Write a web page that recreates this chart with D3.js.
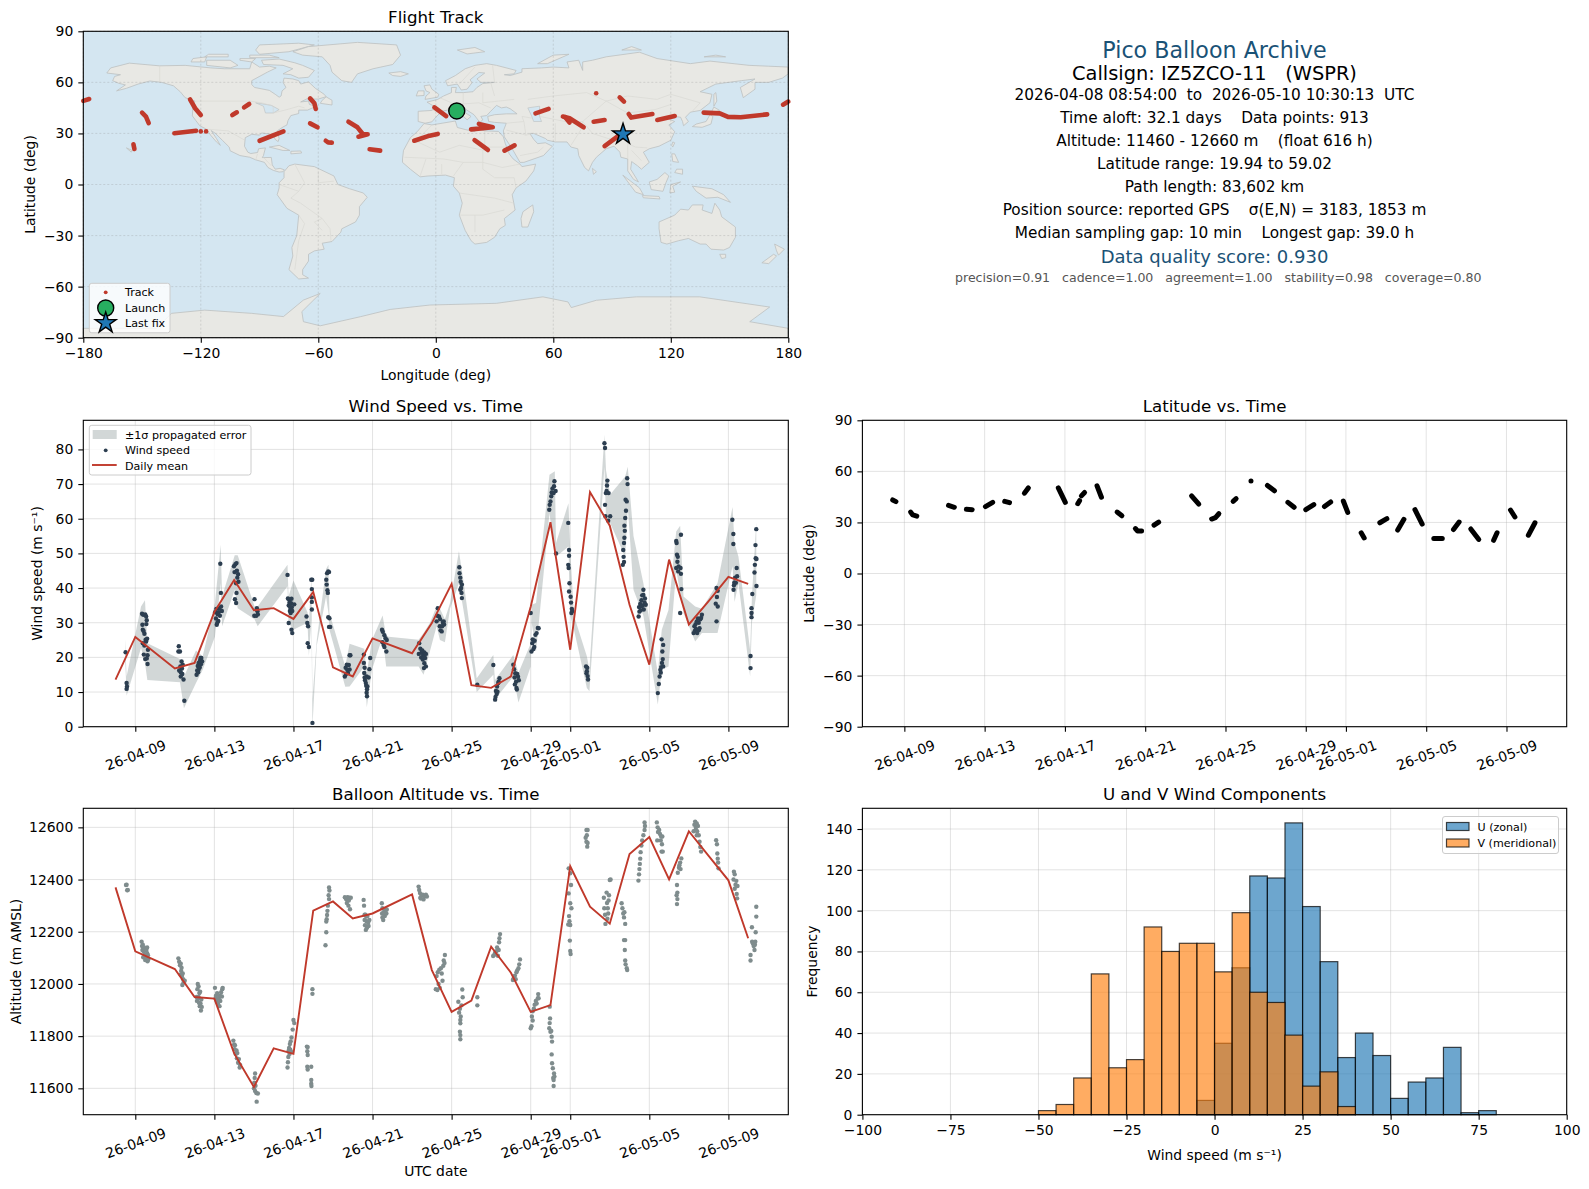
<!DOCTYPE html>
<html>
<head>
<meta charset="utf-8">
<title>Pico Balloon Archive</title>
<script src="https://cdn.jsdelivr.net/npm/d3@7"></script>
<style>
  body { margin: 0; background: #fff; }
  text { font-family: "DejaVu Sans", sans-serif; fill: #000; white-space: pre; }
</style>
</head>
<body>
<svg id="fig" width="1589" height="1189"></svg>
<script>
// day offsets are counted from 2026-04-09 00:00 UTC
var timeTicks = ['2026-04-09', '2026-04-13', '2026-04-17', '2026-04-21', '2026-04-25', '2026-04-29', '2026-05-01', '2026-05-05', '2026-05-09']

var meanDays = [-1, 0, 2, 3, 4, 5, 6, 7, 8, 9, 10, 11, 12, 14, 15, 16, 17, 18, 19, 20, 21, 22, 23, 24, 25, 26, 27, 28, 29, 30, 31]
var windMean = [13.6, 25.9, 16.8, 18.4, 33.1, 42.3, 33.6, 34.2, 31.1, 38.9, 17.1, 14.5, 25.5, 21.2, 29.9, 41.2, 12.0, 11.2, 14.5, 34.6, 59.0, 22.2, 67.7, 58.0, 35.2, 17.9, 48.2, 29.5, 36.2, 43.2, 41.2]
var altMean = [12370, 12125, 12057, 11950, 11944, 11734, 11605, 11753, 11732, 12281, 12316, 12251, 12270, 12343, 12053, 11893, 11936, 12143, 12043, 11893, 11919, 12451, 12296, 12231, 12498, 12563, 12401, 12585, 12491, 12397, 12175]

// [day, wind m/s]
var windSamples = [
  [-0.49, 21.5], [-0.44, 12.6], [-0.42, 11.6], [-0.44, 10.9],
  [0.34, 32.6], [0.4, 32.3], [0.5, 32.4], [0.55, 31.8], [0.58, 30.7], [0.56, 29.6], [0.36, 29.4], [0.38, 28], [0.42, 27.6], [0.46, 26.8], [0.52, 25.1], [0.6, 25.4], [0.55, 24.6], [0.38, 24.1], [0.46, 23.4], [0.64, 22.2], [0.43, 20.8], [0.62, 20.6], [0.5, 19.5], [0.58, 19.7], [0.62, 18.1],
  [2.2, 23.2], [2.26, 21.7], [2.18, 21.7], [2.34, 18.8], [2.4, 17.9], [2.28, 17.4], [2.36, 16.8], [2.22, 16.2], [2.3, 15.7], [2.38, 15.2], [2.3, 14.5], [2.44, 13.6], [2.48, 7.5],
  [3.1, 15], [3.13, 16.2], [3.16, 17.5], [3.2, 16.4], [3.2, 18.4], [3.26, 17.1], [3.28, 19.2], [3.32, 18], [3.34, 19.8], [3.38, 18.8], [3.18, 15.7], [3.3, 19.8],
  [4.3, 47], [4.33, 38.6], [4.08, 31.2], [4.04, 33], [4.12, 29.4], [4.17, 32.4], [4.2, 30.5], [4.25, 34.1], [4.28, 32], [4.34, 34.7], [4.38, 33.4], [4.1, 34], [4.22, 33], [4.15, 30],
  [4.99, 46.3], [5.02, 44.6], [5.06, 46.9], [5.12, 47.2], [5.14, 45], [5.2, 44], [5.16, 43], [5.1, 41.4], [5.22, 41.8], [5.12, 38.6], [5.04, 36.8], [5.1, 35.7],
  [6.03, 36.8], [6.15, 34.2], [6.18, 33.3], [6.02, 32], [6.12, 32], [6.2, 32.4],
  [7.7, 43.8], [7.72, 37], [7.78, 36.7], [7.9, 36.9], [7.76, 35], [7.82, 33.4], [7.92, 34.5], [7.86, 32.8], [8.04, 35.3], [7.88, 35.6], [7.76, 29.9], [7.9, 28], [7.94, 27], [7.8, 35.8], [7.84, 34.4], [7.94, 33.4],
  [8.66, 31.8], [8.7, 29.9], [8.74, 29], [8.72, 24.1], [8.78, 23],
  [8.9, 42.4], [8.95, 42.4], [8.93, 39.7], [8.93, 37.3], [8.93, 36], [8.93, 33.8], [8.96, 1.1],
  [9.66, 42.4], [9.7, 44.3], [9.76, 44.8], [9.8, 44.6], [9.68, 41], [9.72, 39.4], [9.74, 38.6], [9.76, 31.6], [9.82, 31.3], [9.8, 28.8], [9.86, 28.8],
  [10.6, 14.5], [10.64, 17], [10.7, 17.9], [10.76, 15.5], [10.8, 17.8], [10.84, 16.5], [10.66, 15.2], [10.72, 16.4], [10.84, 20.6], [10.88, 20.6],
  [11.56, 20.8], [11.56, 18.4], [11.6, 17], [11.58, 15.5], [11.6, 14.2], [11.7, 14.5], [11.8, 14.2], [11.84, 16.6], [11.88, 19.8], [11.66, 12.6], [11.68, 11.8], [11.72, 10.8], [11.7, 9.8], [11.72, 8.8], [11.62, 13.4], [11.74, 11.6],
  [12.48, 28], [12.52, 27.4], [12.6, 26.4], [12.66, 25.5], [12.5, 24.4], [12.56, 23.6], [12.72, 25], [12.7, 21.7], [12.6, 23],
  [14.36, 24.1], [14.42, 22.5], [14.34, 21], [14.48, 21.4], [14.56, 20.7], [14.62, 21.4], [14.7, 21], [14.46, 20], [14.54, 19.4], [14.66, 19.8], [14.62, 18.3], [14.6, 16.9], [14.7, 17.4], [14.52, 22], [14.6, 20],
  [15.24, 30.4], [15.28, 32], [15.3, 34.2], [15.36, 31.8], [15.42, 31], [15.4, 29], [15.44, 27.8], [15.52, 29], [15.56, 30], [15.6, 30.4], [15.5, 27.5], [15.62, 29.5],
  [16.39, 46], [16.4, 44.3], [16.44, 43], [16.46, 41.8], [16.52, 41], [16.44, 39.5], [16.5, 38.6], [16.52, 37.1], [16.48, 40],
  [17.3, 12.1], [18.11, 17.8], [18.42, 14], [18.36, 12.6], [18.3, 11.6], [18.24, 10.3], [18.28, 9.4], [18.22, 8.6], [18.2, 7.8], [18.32, 10.1], [18.38, 13],
  [19.12, 17.9], [19.16, 16.6], [19.22, 15.4], [19.32, 15.2], [19.4, 13.4], [19.18, 14.2], [19.26, 13], [19.2, 12.2], [19.28, 11.2], [19.3, 10.7], [19.36, 14.4],
  [20, 32.8], [20.04, 21.7], [20.08, 24.1], [20.1, 25.2], [20.14, 22.4], [20.18, 23], [20.2, 24.8], [20.24, 26.5], [20.3, 27], [20.36, 28.5], [20.4, 28.4],
  [20.94, 62.6], [20.96, 64], [21, 65], [21.04, 66.5], [21.06, 67.6], [21.1, 68.7], [21.16, 67.4], [21.18, 69.4], [21.2, 70.8], [21.26, 68], [21.28, 50],
  [21.9, 58.8], [21.94, 51], [21.94, 49.3], [21.9, 46.7], [21.92, 45.8], [21.96, 41.4], [21.94, 39], [22.02, 37.5], [22.04, 35.8], [22.08, 34], [22.06, 32.8], [22.1, 33.4],
  [22.8, 17.4], [22.86, 17], [22.82, 15.4], [22.88, 14.6], [22.9, 13.6], [22.84, 16],
  [23.73, 81.8], [23.76, 80.4], [23.88, 71], [23.86, 69.6], [23.8, 67.4], [23.94, 67.4], [23.76, 64], [23.78, 60.7], [24.02, 60.7], [23.92, 59.4], [23.84, 68],
  [24.66, 46.7], [24.72, 47.5], [24.7, 49], [24.68, 51], [24.72, 53], [24.74, 54.5], [24.76, 56.5], [24.74, 58], [24.78, 60.2], [24.82, 62.3], [24.8, 65.5], [24.86, 65], [24.9, 70], [24.88, 71.7],
  [25.46, 31.8], [25.5, 33.2], [25.48, 34.5], [25.54, 35.4], [25.6, 36.5], [25.64, 37.9], [25.7, 38], [25.78, 37], [25.82, 35.2], [25.66, 35], [25.72, 33.8], [25.7, 39.5], [25.56, 33.6], [25.62, 34.8], [25.76, 35.8],
  [26.43, 9.7], [26.48, 12.3], [26.52, 14.5], [26.56, 16.4], [26.6, 17.2], [26.64, 18.4], [26.68, 19.5], [26.66, 21.7], [26.7, 23.6], [26.62, 25.2], [26.7, 17.4], [26.58, 15.6],
  [27.36, 53.6], [27.38, 53], [27.6, 55.4], [27.4, 49.6], [27.44, 49], [27.42, 47.6], [27.36, 45.8], [27.48, 46.2], [27.46, 44.8], [27.58, 45.8], [27.6, 44.1], [27.62, 39.7], [27.56, 32.8],
  [28.24, 27], [28.3, 27.6], [28.36, 28.2], [28.42, 27], [28.5, 30], [28.58, 31], [28.62, 31.4], [28.66, 32.3], [28.34, 29.6], [28.46, 31.2], [28.54, 28.4], [28.28, 29], [28.4, 30.4], [28.5, 27.8],
  [29.4, 40], [29.46, 39.2], [29.42, 37.4], [29.36, 35.5], [29.46, 34.7], [29.4, 30.4],
  [30.2, 59.7], [30.25, 55.6], [30.25, 52.7], [30.26, 39.5], [30.3, 41.6], [30.34, 43], [30.42, 45.8], [30.44, 43.4], [30.38, 41.5], [30.28, 40.8],
  [31.12, 20.4], [31.12, 16.9], [31.17, 34.2], [31.17, 32.8], [31.17, 31.6], [31.21, 38.3], [31.41, 57], [31.37, 52.4], [31.38, 48.6], [31.34, 46.7], [31.32, 44.5], [31.42, 40.6], [31.42, 48.4]
]

// [day, lower, upper] outline of the shaded error band
var errorBand = [
  [-0.52, 20.8, 25.2], [-0.44, 8.9, 14.5], [0.29, 22.7, 34.7], [0.49, 18.4, 36.5], [0.61, 13.5, 24.1], [2.26, 12.8, 19.5], [2.46, 5.3, 14.5], [3.07, 12.6, 22], [3.41, 16.4, 20.3], [4.03, 26, 35.7], [4.32, 41.4, 52.5], [4.39, 29, 37.6], [5.03, 39.5, 49.5], [5.18, 34.2, 49.5], [6.03, 31, 34.7], [6.19, 29, 34.7], [7.7, 40.5, 46.7], [7.75, 30, 37.6], [8, 28, 42.2], [8.71, 30, 33], [8.78, 20.5, 29.9], [8.91, 30.8, 43.4], [8.96, 0, 8], [9.18, 23.4, 25], [9.65, 37.6, 45.5], [9.77, 32.8, 46.7], [9.82, 28, 32.8], [10.62, 11.5, 17.4], [10.84, 11.6, 23.9], [11.58, 17.4, 22.5], [11.71, 5.6, 15.5], [11.97, 16.4, 25], [12.51, 26, 32.1], [12.69, 17.4, 26], [14.33, 17.4, 25.1], [14.58, 15, 27], [14.9, 21.7, 29.9], [15.24, 29, 34.7], [15.41, 25, 34], [15.66, 24.4, 31], [15.92, 34, 35.7], [16.37, 41.4, 50.6], [16.59, 34, 42.4], [17.27, 10, 14], [18.11, 15, 20.7], [18.19, 7.8, 13.5], [19.12, 14.5, 20.7], [19.38, 7, 15.5], [20, 17.4, 24], [20.05, 30, 35.2], [20.27, 21.7, 35.7], [20.95, 61.6, 72.7], [21.22, 50, 73.7], [21.28, 49, 53], [21.91, 52, 64.5], [22, 32, 51], [22.19, 28, 32], [22.84, 11.2, 20.3], [22.97, 10.2, 16.4], [23.73, 75, 84.2], [23.81, 59.7, 74], [24.02, 58.7, 67], [24.78, 49, 72.2], [24.91, 63.5, 75], [25.2, 39.5, 55], [25.7, 32, 41.4], [26.43, 6.4, 15.5], [26.63, 16.4, 28], [26.97, 17.4, 33.7], [27.36, 45.3, 56.3], [27.56, 38.6, 58], [27.73, 32.8, 37.6], [28.32, 24.6, 34.7], [28.66, 27, 34], [29.45, 27, 41.4], [30.21, 46.3, 63.4], [30.31, 36, 53], [30.51, 41.4, 49], [31.1, 14.5, 22], [31.19, 30, 37.6], [31.41, 38, 59]
]

// [day, altitude m]
var altSamples = [
  [-0.47, 12379], [-0.44, 12380], [-0.41, 12359], [-0.38, 12360],
  [0.32, 12162], [0.34, 12145], [0.36, 12130], [0.38, 12150], [0.42, 12125], [0.44, 12140], [0.46, 12112], [0.5, 12128], [0.52, 12105], [0.56, 12130], [0.58, 12098], [0.6, 12118], [0.62, 12087], [0.64, 12110], [0.66, 12095], [0.4, 12102], [0.5, 12092], [0.6, 12140],
  [2.18, 12098], [2.22, 12085], [2.26, 12072], [2.3, 12078], [2.32, 12050], [2.34, 12062], [2.3, 12035], [2.36, 12030], [2.4, 12040], [2.42, 12018], [2.44, 12005], [2.5, 12012], [2.38, 11996],
  [3.1, 11950], [3.12, 11935], [3.14, 11980], [3.16, 12000], [3.18, 11945], [3.2, 11990], [3.22, 11928], [3.24, 11965], [3.26, 11915], [3.28, 11970], [3.3, 11925], [3.32, 11898], [3.34, 11940], [3.36, 11912], [3.2, 11950],
  [4.03, 11985], [4.06, 11945], [4.08, 11955], [4.12, 11935], [4.14, 11965], [4.18, 11925], [4.22, 11945], [4.26, 11915], [4.28, 11955], [4.3, 11935], [4.34, 11968], [4.38, 11952], [4.4, 11980], [4.42, 11985],
  [4.96, 11783], [5, 11768], [5.02, 11750], [5.04, 11765], [5.08, 11732], [5.12, 11745], [5.14, 11715], [5.16, 11735], [5.2, 11698], [5.24, 11712], [5.28, 11680], [5.3, 11690],
  [6.06, 11657], [6.04, 11640], [6.02, 11622], [6.0, 11600], [6.06, 11590], [6.12, 11582], [6.2, 11580], [6.14, 11549], [6.08, 11610],
  [7.7, 11680], [7.72, 11700], [7.74, 11720], [7.76, 11745], [7.8, 11732], [7.82, 11770], [7.78, 11755], [7.86, 11780], [7.9, 11795], [7.84, 11748], [7.96, 11825], [7.88, 11740], [8.0, 11862], [8.04, 11850],
  [8.68, 11760], [8.72, 11758], [8.7, 11742], [8.72, 11728], [8.7, 11683], [8.72, 11672], [8.9, 11683], [8.9, 11632], [8.9, 11618], [8.91, 11609], [8.96, 11980], [8.96, 11962],
  [9.8, 12370], [9.82, 12358], [9.78, 12340], [9.8, 12325], [9.72, 12280], [9.7, 12264], [9.68, 12248], [9.66, 12239], [9.66, 12198], [9.62, 12148], [9.74, 12300],
  [10.6, 12332], [10.66, 12325], [10.7, 12310], [10.74, 12332], [10.78, 12300], [10.82, 12330], [10.86, 12286], [10.9, 12330], [10.8, 12320],
  [11.55, 12322], [11.57, 12300], [11.6, 12265], [11.64, 12265], [11.68, 12258], [11.7, 12240], [11.74, 12260], [11.78, 12235], [11.62, 12225], [11.66, 12207], [11.72, 12215], [11.8, 12222], [11.6, 12245], [11.84, 12245],
  [12.47, 12309], [12.48, 12270], [12.5, 12255], [12.54, 12245], [12.58, 12268], [12.62, 12260], [12.66, 12282], [12.7, 12270], [12.72, 12285], [12.5, 12290], [12.56, 12275],
  [14.33, 12373], [14.36, 12360], [14.4, 12348], [14.42, 12330], [14.48, 12340], [14.54, 12342], [14.62, 12335], [14.7, 12342], [14.75, 12335], [14.58, 12324], [14.44, 12327],
  [15.2, 11980], [15.24, 12030], [15.28, 11977], [15.3, 12045], [15.34, 12000], [15.38, 12055], [15.4, 11985], [15.46, 12060], [15.5, 12040], [15.54, 12012], [15.58, 12070], [15.6, 12090], [15.64, 12080], [15.66, 12111],
  [16.34, 11932], [16.38, 11890], [16.42, 11905], [16.46, 11875], [16.44, 11862], [16.44, 11849], [16.42, 11817], [16.44, 11804], [16.44, 11788], [16.54, 11979], [16.56, 11949], [16.5, 11918],
  [17.3, 11949], [17.3, 11918],
  [18.1, 12107], [18.16, 12112], [18.2, 12120], [18.26, 12125], [18.3, 12140], [18.34, 12108], [18.38, 12130], [18.4, 12160], [18.42, 12175], [18.45, 12191],
  [19.1, 12015], [19.14, 12022], [19.2, 12032], [19.24, 12018], [19.28, 12045], [19.32, 12052], [19.38, 12060], [19.42, 12075], [19.46, 12094],
  [20, 11830], [20.04, 11838], [20.06, 11875], [20.1, 11860], [20.1, 11895], [20.16, 11905], [20.2, 11920], [20.26, 11935], [20.3, 11925], [20.36, 11945], [20.38, 11961], [20.4, 11945],
  [20.96, 11913], [20.98, 11868], [20.96, 11850], [20.94, 11830], [21, 11817], [21.04, 11820], [21.06, 11798], [21.08, 11779], [21.06, 11730], [21.08, 11696], [21.12, 11677], [21.18, 11657], [21.14, 11640], [21.2, 11645], [21.16, 11632], [21.16, 11609],
  [21.92, 12443], [22, 12424], [22.04, 12379], [21.92, 12347], [22, 12309], [22.06, 12290], [21.94, 12260], [21.96, 12240], [22, 12226], [21.9, 12228], [21.98, 12166], [22, 12126], [22.02, 12115],
  [22.82, 12590], [22.88, 12590], [22.78, 12560], [22.84, 12570], [22.82, 12545], [22.88, 12540], [22.86, 12526],
  [23.7, 12330], [23.72, 12290], [23.76, 12265], [23.78, 12230], [23.84, 12350], [23.86, 12310], [23.9, 12290], [23.88, 12250], [24, 12398], [24.04, 12400], [23.94, 12320], [23.96, 12340], [23.92, 12270],
  [24.6, 12309], [24.64, 12290], [24.68, 12270], [24.72, 12255], [24.78, 12230], [24.74, 12275], [24.72, 12168], [24.78, 12168], [24.76, 12130], [24.78, 12090], [24.8, 12075], [24.86, 12060], [24.88, 12053],
  [25.45, 12396], [25.48, 12420], [25.5, 12440], [25.52, 12460], [25.54, 12480], [25.56, 12505], [25.6, 12530], [25.64, 12550], [25.7, 12570], [25.76, 12590], [25.76, 12619], [25.78, 12605],
  [26.38, 12619], [26.42, 12600], [26.44, 12582], [26.5, 12590], [26.54, 12575], [26.6, 12565], [26.4, 12550], [26.58, 12550], [26.66, 12565], [26.64, 12535], [26.62, 12507], [26.68, 12507],
  [27.4, 12379], [27.42, 12350], [27.38, 12340], [27.42, 12325], [27.4, 12306], [27.44, 12426], [27.5, 12445], [27.56, 12465], [27.62, 12481], [27.58, 12440], [27.52, 12455],
  [28.24, 12585], [28.28, 12610], [28.32, 12622], [28.36, 12600], [28.4, 12615], [28.42, 12585], [28.46, 12605], [28.5, 12570], [28.54, 12545], [28.58, 12525], [28.62, 12507], [28.4, 12570], [28.34, 12590],
  [29.38, 12551], [29.42, 12535], [29.44, 12500], [29.46, 12480], [29.5, 12443], [29.48, 12465],
  [30.26, 12400], [30.28, 12430], [30.32, 12420], [30.36, 12380], [30.4, 12395], [30.42, 12345], [30.44, 12328], [30.46, 12375], [30.32, 12365],
  [31.12, 12111], [31.12, 12090], [31.19, 12217], [31.2, 12162], [31.24, 12155], [31.28, 12145], [31.32, 12130], [31.36, 12162], [31.38, 12198], [31.41, 12296], [31.41, 12258], [31.34, 12150]
]

// latitude legs: [[day, lat], ...]
var latSegments = [
  [[-0.58, 43.2], [-0.42, 42.2]], [[0.31, 36.1], [0.42, 34.4], [0.62, 33.7]], [[2.2, 40], [2.49, 38.9]], [[3.09, 37.7], [3.38, 37.5]], [[4.04, 39.3], [4.4, 41.8]],
  [[5, 42.4], [5.24, 41.6]], [[5.98, 47.2], [6.18, 50.3]], [[7.67, 50.3], [8.02, 41.8]], [[8.64, 41], [8.73, 42.8]], [[8.82, 45.6], [8.98, 47.6]],
  [[9.6, 51.5], [9.82, 44.8]], [[10.6, 36.1], [10.84, 33.9]], [[11.51, 26.4], [11.62, 25], [11.82, 24.9]], [[12.44, 28.4], [12.67, 30.2]], [[14.31, 45.6], [14.67, 40.7]],
  [[15.31, 32], [15.5, 32.8], [15.67, 35.1]], [[16.38, 42.4], [16.53, 44]], [[17.27, 54.3], [17.27, 54.3]], [[18.09, 51.7], [18.44, 48.6]], [[19.11, 41.8], [19.42, 38.9]],
  [[20, 37.5], [20.4, 40.5]], [[20.93, 39.3], [21.24, 42]], [[21.87, 42.6], [22.09, 35.9]], [[22.76, 23.9], [22.91, 20.9]], [[23.69, 29.8], [24.04, 32.2]],
  [[24.58, 25.5], [24.89, 31.8]], [[25.44, 37.5], [25.8, 29]], [[26.38, 20.5], [26.8, 20.5]], [[27.36, 25.8], [27.64, 30.2]], [[28.22, 26.2], [28.62, 20]],
  [[29.36, 19.5], [29.53, 23.9]], [[30.2, 37.3], [30.42, 33.2]], [[31.09, 22.5], [31.42, 29.8]]
]

// ground track legs: [[lon, lat], ...]
var trackSegments = [
  [[-180, 49.1], [-177, 50.2]], [[-150, 42.2], [-148, 39.9], [-146.6, 36]], [[-154.4, 23.6], [-153.9, 20.9]], [[-133.5, 30.1], [-122.4, 31.6]], [[-120, 31.2], [-120, 31.2]], [[-117.3, 31.2], [-117.3, 31.2]],
  [[-125.5, 50], [-122.9, 44.8], [-120, 40.8]], [[-103.9, 40.8], [-101.6, 42.4]], [[-97.9, 45.3], [-95.3, 47.3]], [[-90, 25.7], [-77.8, 31.2]],
  [[-64.2, 50.6], [-62, 47.7], [-61.3, 44.4]], [[-64.2, 35.9], [-60.4, 33.6]], [[-56.2, 25.7], [-55, 24.7], [-53.1, 24.6]], [[-44.6, 36.9], [-40, 33.6], [-37.2, 29.5], [-34.8, 29.5], [-39.5, 28.1]],
  [[-33.8, 20.7], [-28.4, 19.9]], [[-11, 25.7], [-3.2, 28.7], [1, 29.7]], [[-0.7, 45.3], [5.3, 40.2]], [[18, 32.4], [29.1, 33.6], [22, 35.6]], [[19.8, 26.1], [26.6, 20.3]], [[35.1, 19.9], [40.2, 23]],
  [[50.9, 41.8], [57.6, 44.4]], [[64.9, 39.9], [68.3, 38.9], [75.5, 33.6]], [[66, 39.6], [68.3, 36.4]], [[80.6, 36.9], [86.2, 37.9]], [[81.9, 53.6], [81.9, 53.6]], [[93.9, 51.2], [96.1, 48.7]],
  [[98.5, 41.4], [99.8, 39.3], [110.6, 41.4]], [[113.1, 37.9], [122, 40.2]], [[136.8, 42.2], [145, 41.8], [149.2, 39.7], [155.7, 39.5], [169.2, 41.2]], [[177.3, 46.9], [180, 48.7]], [[86.2, 22.6], [93.9, 29.1]]
]
var launchFix = [10.7, 43.2]
var lastFix = [95.6, 29.5]

// rough coastlines
var land = [
  [[-168, 65.5], [-166, 68.5], [-156.5, 71.3], [-141, 69.7], [-128, 70], [-115, 68.5], [-108, 68], [-95, 68], [-94, 72], [-90, 69], [-85, 69.5], [-81.5, 68.5], [-86, 66], [-94, 61], [-94, 58.7], [-92.5, 57], [-85, 55.3], [-82, 53], [-80, 51.3], [-79, 52], [-78.5, 55], [-76.5, 57], [-78, 60], [-77.5, 62.5], [-73, 62], [-70, 61], [-69, 59], [-65, 60.3], [-61.5, 56.5], [-57, 53], [-56, 51.6], [-60, 50.2], [-66, 50.2], [-69, 48.5], [-65, 49], [-64.5, 47], [-61, 46], [-65.5, 43.7], [-70, 43.7], [-70, 41.7], [-74, 40.5], [-75.5, 37.5], [-76, 35], [-78, 33.8], [-81, 31.5], [-80, 27], [-80.5, 25.2], [-82, 26.5], [-83, 29], [-85, 29.7], [-89, 30.3], [-90, 29], [-94, 29.5], [-97.3, 27.5], [-97.7, 22.5], [-96, 19], [-94.5, 18.2], [-91, 18.8], [-90.5, 21], [-87, 21.5], [-88, 17], [-88.6, 15.8], [-84, 15.9], [-83.5, 11.5], [-82, 9], [-79.5, 9.5], [-77.3, 8.6], [-78, 7.5], [-80, 7.3], [-83, 8.3], [-85.7, 10], [-87.5, 13], [-92, 14.5], [-95, 16], [-100, 17], [-105, 19.8], [-105.5, 22], [-109, 26], [-112.5, 30], [-114.7, 31.7], [-112, 27], [-110, 23], [-112, 25], [-115, 29], [-117.1, 32.5], [-120.5, 34.5], [-122.5, 37.5], [-124.3, 40.3], [-124, 46], [-123, 49], [-128, 51], [-130.5, 54.5], [-134, 58], [-140, 60], [-146, 60.8], [-152, 59], [-158, 56.5], [-163, 55], [-158.5, 58.5], [-162, 59.5], [-165, 61], [-164, 63.5], [-161, 64.5]],
  [[-80, 73.7], [-72, 71.5], [-68, 70], [-62, 67], [-65, 63], [-70, 62.5], [-74, 64.5], [-78, 65], [-73, 68], [-78, 70], [-88, 70.5], [-89, 73]],
  [[-117, 70], [-105, 68.5], [-101, 70], [-105, 73], [-117, 73]],
  [[-90, 76.5], [-75, 78], [-62, 82], [-70, 83], [-90, 82], [-92, 79]],
  [[-125, 72], [-118, 72], [-117, 75], [-124, 74]],
  [[-95, 74.5], [-80, 74.5], [-85, 76], [-95, 76]],
  [[-118, 75], [-106, 75], [-106, 76.5], [-116, 76.5]],
  [[-100, 73], [-94, 72], [-92, 74], [-100, 74]],
  [[-59, 47.7], [-53, 46.7], [-53, 49.5], [-56, 51.5], [-58, 49.5]],
  [[-73, 78], [-65, 81], [-40, 83.5], [-20, 82], [-18, 76], [-22, 70.5], [-32, 68], [-40, 65], [-43, 60], [-48, 61], [-53, 66], [-54, 70], [-58, 75], [-68, 76]],
  [[-24, 65.5], [-18, 66.3], [-14, 65], [-18, 63.5], [-22, 64]],
  [[-72, 12], [-62, 10.5], [-52, 5], [-50, 0], [-44, -2.5], [-37, -5], [-35, -7.5], [-39, -13], [-39, -18], [-41, -22], [-48, -26], [-48.5, -28], [-53, -33.5], [-58, -34.5], [-57, -38], [-62, -39], [-65, -41], [-65, -45], [-68, -50], [-68, -53], [-65, -55], [-70, -55.5], [-75, -50], [-73, -42], [-73.5, -37], [-71, -30], [-70, -18], [-76, -14], [-81, -6], [-80, -2], [-80, 1], [-77.5, 4], [-77.5, 7.5], [-75, 11]],
  [[-17, 15], [-16.5, 20], [-13, 27.5], [-9.5, 31], [-6, 35.8], [-2, 35], [10, 37.3], [11, 33.5], [15, 32.3], [20, 31], [20, 33], [25, 31.5], [32, 31.2], [34.5, 28], [35.5, 24], [37.5, 18], [39.5, 15], [43, 12], [44, 10.5], [51, 12], [50, 8], [46, 2], [41, -2], [39, -6], [40.5, -15], [35, -20], [35.5, -24], [32.7, -26], [30, -31], [26, -34], [20, -35], [18, -33], [15, -27], [12, -18], [13.5, -11], [12, -5], [9, -1], [9.5, 4], [5, 5.5], [-4, 5], [-8, 4.5], [-13, 9], [-17, 13]],
  [[49.5, -12], [50, -16], [47, -25], [44, -25], [43.5, -20], [44.5, -16]],
  [[-9, 37], [-9, 43], [-2, 43.5], [-1, 46], [-4.5, 48.4], [1, 50], [4, 52], [8, 54], [8, 57], [10.5, 57], [10, 54], [14, 54], [19, 54.5], [21, 57], [24, 59.3], [30, 60], [23, 60], [21, 62], [25, 65.5], [22, 65.8], [17.5, 61.5], [18.5, 59.8], [16, 56], [13, 55.5], [11, 59], [6, 58], [5, 61], [10, 64], [15, 68], [20, 70], [26, 71], [31, 70], [41, 67], [40, 65], [35, 64.5], [38, 64], [44, 66], [44, 68], [54, 68.5], [60, 69], [68, 68.5], [67, 72], [73, 73], [75, 67], [75, 72], [80, 73], [87, 75], [104, 77.7], [113, 74], [130, 71], [140, 72.5], [160, 70], [170, 69.5], [180, 69], [180, 65], [177, 62.5], [170, 60], [163, 60], [163, 56], [157, 51], [155.5, 57], [163, 62], [156, 61], [143, 59], [135, 54.5], [141, 53], [140, 48], [135, 43.5], [130, 42.5], [127.5, 39.5], [129, 37], [126.5, 34.5], [126, 37], [125, 39.5], [122, 40], [118, 39], [122, 37], [119, 35], [122, 31], [120, 26], [114, 22.5], [109, 21], [106, 19], [109, 13], [105, 9], [103, 11], [100, 13.5], [99.5, 9], [103.5, 1.5], [101, 3], [98, 8], [98, 15], [94.5, 16], [94, 19], [91, 22.5], [87, 21], [82, 16], [80, 13], [78, 8], [76, 10], [73, 17], [72.5, 21], [69, 22], [67, 25], [61, 25], [57, 26], [56, 27], [50, 30], [48, 30], [50, 26.5], [52, 24], [56, 24.5], [59.5, 22.5], [55, 17], [45, 13], [43, 13], [39, 21], [35, 28], [34.5, 31.5], [36, 36], [30, 36.5], [27, 37], [26.5, 40], [30, 41], [36, 41.5], [41.5, 41.5], [38, 44.5], [36, 45.5], [33.5, 45], [31, 46.5], [28, 43], [26, 40.5], [23, 40], [24, 38], [22.5, 36.5], [19.5, 41], [13.5, 45.5], [12.5, 44], [18, 40], [16, 38], [12, 42], [8.5, 44.3], [3, 43], [0, 39.5], [-2, 36.8], [-5.5, 36]],
  [[-5.5, 50], [1, 51.3], [1.5, 53], [-2, 56], [-3, 58.5], [-6, 58], [-5, 55], [-3, 54], [-5, 52]],
  [[-10, 52], [-6, 52.3], [-6, 55], [-9, 55]],
  [[11, 79], [20, 80.5], [25, 78], [16, 76.7]],
  [[52, 71], [57, 71], [68, 76.5], [60, 76]],
  [[95, 79], [105, 79], [100, 81]],
  [[137, 75], [148, 75], [143, 76]],
  [[142, 46], [143.5, 49], [143, 54], [142, 53]],
  [[131, 34], [136, 33.6], [140.5, 35.5], [141.5, 40], [140, 41], [138, 37], [133, 35.5]],
  [[140.5, 42], [145, 43.5], [142, 45.5]],
  [[120.5, 23], [121, 25], [122, 24.5], [121, 22]],
  [[120.5, 18], [122, 18], [124, 13], [121, 13.5]],
  [[122, 7], [126, 6], [126, 9], [123, 9]],
  [[109, 1.5], [113, 3], [117, 7], [119, 5], [117.5, 1], [116, -4], [110, -3]],
  [[95.5, 5.5], [104, -2], [106, -6], [102, -4.5]],
  [[105.5, -6.5], [114, -7], [114.5, -8.5], [106, -7.8]],
  [[119.5, -5], [120, 0], [125, 1.5], [121, -1], [122, -4.5]],
  [[131, -1], [141, -2.5], [147, -6], [150.5, -10.5], [144, -7.5], [138, -8], [133, -4]],
  [[114, -22], [114, -26], [115, -34], [118, -35], [124, -33], [129, -31.7], [135, -35], [138, -35], [140.5, -38], [147, -38.5], [150, -37], [153, -31], [153, -25], [146, -19], [145, -15], [142.5, -11], [141, -17], [136, -15], [136.5, -12], [131, -12], [129, -15], [125, -14.5], [122, -18]],
  [[145, -41], [148, -41], [148, -43], [146, -43.5]],
  [[173, -35], [178, -38], [175, -41.5], [174, -39]],
  [[172.5, -41], [174, -42], [170, -46.5], [166.5, -46]],
  [[80, 9.5], [82, 7.5], [80.5, 6]],
  [[-85, 22], [-80, 23], [-74.5, 20], [-78, 20]],
  [[-74, 19.5], [-69, 19.7], [-68.5, 18.5], [-74, 18]],
  [[-158, 21.5], [-155, 20], [-155.5, 19]],
  [[-180, -84.5], [-142.5, -84.5], [-135, -75.7], [-118, -73.8], [-94, -75.7], [-77.8, -77.6], [-67.6, -67.9], [-59, -64], [-68.4, -74.7], [-67.6, -80.6], [-59, -83], [-38.6, -77.7], [-23.3, -73.4], [-3, -70.8], [31, -69.8], [54.7, -66], [67.5, -69], [69.2, -72.3], [82, -68], [102.4, -66], [134.8, -66], [170.5, -72], [160.3, -80.6], [180, -84.5], [180, -90], [-180, -90]]
]
var inlandWater = [
  [[47, 45], [53, 46], [53, 40], [54, 37], [50, 37], [49, 40]],
  [[-92, 48], [-84, 46.5], [-80, 44], [-83, 42], [-87, 42], [-88, 46]]
]
var borders = [
  [[-123, 49], [-95, 49], [-89, 48], [-83, 46], [-83, 42], [-76, 44], [-70, 46], [-67, 45]], [[-141, 69.7], [-141, 60]], [[-117, 32.5], [-106, 31.5], [-97.5, 26]],
  [[-92, 14.5], [-91, 18]], [[-88, 16], [-84, 11]], [[-72, 12], [-67, 1], [-70, -4], [-74, -8], [-69, -11], [-58, -20], [-54, -26], [-53.5, -33]], [[-80, 0], [-75, -2], [-70, -4]], [[-70, -18], [-67, -23], [-70, -33], [-72, -50]], [[-60, 8], [-60, 1], [-52, 2]], [[-58, -20], [-62, -22], [-58, -27]],
  [[-9, 27], [-2, 35]], [[-13, 27], [2, 19], [12, 23], [25, 20], [25, 31.5]], [[25, 22], [36, 22]], [[-16, 16], [4, 15], [14, 13], [24, 13], [34, 10], [43, 12]], [[3, 6], [3, 12]], [[9, 5], [14, 13]], [[24, 20], [24, 9], [30, 4], [40, 4], [41, -2]], [[12, -5], [30, -8], [40, -11]], [[12, -18], [24, -18], [35, -15]], [[20, -28], [20, -18]], [[-8, 5], [-5, 15]],
  [[-2, 43.5], [3, 43]], [[2, 51], [8, 48], [8, 44]], [[14, 54], [14, 46]], [[10, 47], [22, 48], [28, 45]], [[24, 54], [24, 48], [40, 50]], [[28, 60], [30, 52]], [[29, 70], [30, 60]], [[12, 59], [20, 69]],
  [[47, 50], [60, 52], [77, 54], [87, 49]], [[87, 49], [98, 52], [113, 50], [120, 53], [135, 48], [131, 43]], [[87, 49], [98, 42], [112, 44], [120, 47]], [[53, 40], [66, 37], [75, 37], [80, 30], [88, 27], [97, 28], [98, 24], [102, 22], [108, 21.5]], [[75, 37], [80, 42], [87, 49]], [[61, 25], [61, 36]], [[69, 23], [74, 32], [75, 37]], [[36, 36], [45, 37], [44, 40], [49, 39]], [[36, 32], [46, 29], [50, 30]], [[45, 37], [46, 29]], [[43, 17], [52, 19], [55, 22]], [[98, 24], [98, 15]], [[100, 20], [105, 14]]
]

// histogram of the wind components, 5 m/s bins starting at these edges
var vBinStart = -50
var vCounts = [2, 5, 18, 69, 23, 27, 92, 80, 84, 84, 70, 99, 60, 55, 39, 14, 21, 4]
var uBinStart = -5
var uCounts = [7, 35, 72, 117, 116, 143, 102, 75, 28, 40, 29, 8, 16, 18, 33, 1, 2]
var binWidth = 5

var infoLines = [
  { text: 'Pico Balloon Archive', y: 50.5, size: 22.2, color: '#1a5276', x: 1214.5 },
  { text: 'Callsign: IZ5ZCO-11   (WSPR)', y: 73, size: 19.4, color: '#000', x: 1214.5 },
  { text: '2026-04-08 08:54:00  to  2026-05-10 10:30:13  UTC', y: 94.5, size: 15.3, color: '#000', x: 1214.5 },
  { text: 'Time aloft: 32.1 days    Data points: 913', y: 117.5, size: 15.3, color: '#000', x: 1214.5 },
  { text: 'Altitude: 11460 - 12660 m    (float 616 h)', y: 140.5, size: 15.3, color: '#000', x: 1214.5 },
  { text: 'Latitude range: 19.94 to 59.02', y: 163.5, size: 15.3, color: '#000', x: 1214.5 },
  { text: 'Path length: 83,602 km', y: 186.5, size: 15.3, color: '#000', x: 1214.5 },
  { text: 'Position source: reported GPS    σ(E,N) = 3183, 1853 m', y: 209.5, size: 15.3, color: '#000', x: 1214.5 },
  { text: 'Median sampling gap: 10 min    Longest gap: 39.0 h', y: 232.5, size: 15.3, color: '#000', x: 1214.5 },
  { text: 'Data quality score: 0.930', y: 257, size: 18, color: '#1a5276', x: 1214.5 },
  { text: 'precision=0.91   cadence=1.00   agreement=1.00   stability=0.98   coverage=0.80', y: 278, size: 12.55, color: '#555', x: 1218.3 }
]

var RED = '#c0392b', NAVY = '#2c3e50', GRAY = '#7f8c8d'
var L1 = 83.3, R1 = 788.3, L2 = 862.4, R2 = 1566.7
var svg = d3.select('#fig')
var dayMs = 864e5, day0 = Date.UTC(2026, 3, 9)
function toDate(d) { return new Date(day0 + d * dayMs) }

// wind and altitude also hold the Apr 8 daily mean, latitude does not
var timeDomain = [toDate(-2.63), toDate(33.03)]
var latTimeDomain = [toDate(-2.09), toDate(33.0)]

// one axes box with grid, ticks and a title
function makeAxes(o) {
  var g = svg.append('g')
  var x = o.x, y = o.y
  var xr = x.range(), yr = y.range()
  if (o.under) o.under(g)
  var grid = g.append('g').attr('fill', 'none')
    .attr('stroke', o.gridColor || '#b0b0b0').attr('stroke-opacity', o.gridOpacity || 0.35)
    .attr('stroke-width', 1).attr('stroke-dasharray', o.gridDash || null)
  grid.selectAll('.gx').data(o.xTicks).join('line').attr('class', 'gx')
    .attr('x1', x).attr('x2', x).attr('y1', yr[0]).attr('y2', yr[1])
  grid.selectAll('.gy').data(o.yTicks).join('line').attr('class', 'gy')
    .attr('y1', y).attr('y2', y).attr('x1', xr[0]).attr('x2', xr[1])

  var xAxis = d3.axisBottom(x).tickValues(o.xTicks).tickSize(5).tickPadding(5)
  if (o.xFormat) xAxis.tickFormat(o.xFormat)
  var yAxis = d3.axisLeft(y).tickValues(o.yTicks).tickSize(5).tickPadding(5)
  if (o.yFormat) yAxis.tickFormat(o.yFormat)

  var ax = g.append('g').attr('transform', 'translate(0,' + yr[0] + ')').call(xAxis)
  var ay = g.append('g').attr('transform', 'translate(' + xr[0] + ',0)').call(yAxis)
  ;[ax, ay].forEach(function(a) {
    a.attr('font-family', null).attr('font-size', null)
    a.select('.domain').remove()
    a.selectAll('line').attr('stroke', '#000').attr('stroke-width', 1.1)
    a.selectAll('text').style('font-size', '13.9px')
  })
  if (o.rotate) {
    ax.selectAll('text')
      .attr('y', 0).attr('dy', '0.35em').attr('text-anchor', 'middle')
      .attr('transform', 'translate(0,28.5) rotate(-20)')
  }
  return { g: g, top: g.append('g') }
}

function finishAxes(g, o) {
  var xr = o.x.range(), yr = o.y.range()
  g.append('rect').attr('x', xr[0]).attr('y', yr[1])
    .attr('width', xr[1] - xr[0]).attr('height', yr[0] - yr[1])
    .attr('fill', 'none').attr('stroke', '#000').attr('stroke-width', 1.1)
  svg.append('text').attr('x', (xr[0] + xr[1]) / 2).attr('y', yr[1] - 8.3)
    .attr('text-anchor', 'middle').style('font-size', '16.67px').text(o.title)
  if (o.xLabel) svg.append('text').attr('x', (xr[0] + xr[1]) / 2).attr('y', o.xLabelY)
    .attr('text-anchor', 'middle').style('font-size', '13.9px').text(o.xLabel)
  if (o.yLabel) svg.append('text').attr('transform', 'translate(' + o.yLabelX + ',' + (yr[0] + yr[1]) / 2 + ') rotate(-90)')
    .attr('text-anchor', 'middle').style('font-size', '13.9px').text(o.yLabel)
}

function legendBox(g, x, y, w, h) {
  g.append('rect').attr('x', x).attr('y', y).attr('width', w).attr('height', h).attr('rx', 2.5)
    .attr('fill', '#fff').attr('fill-opacity', 0.8).attr('stroke', '#ccc').attr('stroke-width', 1)
}
function legendText(g, x, y, t) {
  g.append('text').attr('x', x).attr('y', y).attr('dy', '0.35em').style('font-size', '11.1px').attr('fill', '#222').text(t)
}

var starPoints = d3.range(10).map(function(i) {
  var r = i % 2 ? 4.2 : 11, a = i * Math.PI / 5
  return [r * Math.sin(a), -r * Math.cos(a)].map(function(v) { return v.toFixed(2) }).join(',')
}).join(' ')

// --- flight track ---------------------------------------------------------
var mapX = d3.scaleLinear().domain([-180, 180]).range([L1, R1])
var mapY = d3.scaleLinear().domain([-90, 90]).range([337.7, 31.3])
var geoLine = d3.line().x(function(d) { return mapX(d[0]) }).y(function(d) { return mapY(d[1]) })

var mapOpts = {
  x: mapX, y: mapY, xTicks: [-180, -120, -60, 0, 60, 120, 180], yTicks: [-90, -60, -30, 0, 30, 60, 90],
  xFormat: function(d) { return String(d).replace('-', '\u2212') }, yFormat: function(d) { return String(d).replace('-', '\u2212') },
  gridColor: '#888', gridOpacity: 0.25, gridDash: '2,2',
  title: 'Flight Track', xLabel: 'Longitude (deg)', xLabelY: 380, yLabel: 'Latitude (deg)', yLabelX: 35,
  under: function(g) {
    g.append('rect').attr('x', L1).attr('y', 31.3).attr('width', R1 - L1).attr('height', 306.4).attr('fill', '#d4e6f1')
    g.selectAll('.land').data(land).join('path').attr('class', 'land')
      .attr('d', function(d) { return geoLine(d) + 'Z' })
      .attr('fill', '#e8e8e4').attr('stroke', '#bcc0c0').attr('stroke-width', 0.8)
    g.selectAll('.water').data(inlandWater).join('path').attr('class', 'water')
      .attr('d', function(d) { return geoLine(d) + 'Z' })
      .attr('fill', '#d4e6f1').attr('stroke', '#bcc0c0').attr('stroke-width', 0.6)
    g.selectAll('.border').data(borders).join('path').attr('class', 'border')
      .attr('d', geoLine).attr('fill', 'none').attr('stroke', '#d6d6d2').attr('stroke-width', 0.6)
  }
}
var mapAx = makeAxes(mapOpts)
mapAx.top.selectAll('path').data(trackSegments).join('path')
  .attr('d', geoLine).attr('fill', 'none').attr('stroke', RED)
  .attr('stroke-width', 4.6).attr('stroke-linecap', 'round').attr('stroke-linejoin', 'round')
mapAx.top.append('circle').attr('cx', mapX(launchFix[0])).attr('cy', mapY(launchFix[1])).attr('r', 8)
  .attr('fill', '#27ae60').attr('stroke', '#000').attr('stroke-width', 1.4)
mapAx.top.append('polygon').attr('points', starPoints)
  .attr('transform', 'translate(' + mapX(lastFix[0]) + ',' + mapY(lastFix[1]) + ')')
  .attr('fill', '#1f77b4').attr('stroke', '#000').attr('stroke-width', 1.4)
legendBox(mapAx.top, 89.3, 283.3, 80.7, 49.5)
mapAx.top.append('circle').attr('cx', 105.7).attr('cy', 292.3).attr('r', 1.9).attr('fill', RED)
mapAx.top.append('circle').attr('cx', 105.7).attr('cy', 308).attr('r', 8).attr('fill', '#27ae60').attr('stroke', '#000').attr('stroke-width', 1.4)
mapAx.top.append('polygon').attr('points', starPoints).attr('transform', 'translate(105.7,323)')
  .attr('fill', '#1f77b4').attr('stroke', '#000').attr('stroke-width', 1.4)
legendText(mapAx.top, 125, 292.3, 'Track')
legendText(mapAx.top, 125, 308, 'Launch')
legendText(mapAx.top, 125, 323, 'Last fix')
finishAxes(mapAx.g, mapOpts)

// --- info panel -----------------------------------------------------------
svg.append('g').selectAll('text').data(infoLines).join('text')
  .attr('x', function(d) { return d.x }).attr('y', function(d) { return d.y }).attr('dy', '0.35em')
  .attr('text-anchor', 'middle')
  .style('font-size', function(d) { return d.size + 'px' })
  .style('fill', function(d) { return d.color })
  .text(function(d) { return d.text })

// --- time series ----------------------------------------------------------
var tickDates = timeTicks.map(function(s) { return new Date(s + 'T00:00:00Z') })
var tickFmt = d3.utcFormat('%y-%m-%d')

// wind speed
var windX = d3.scaleUtc().domain(timeDomain).range([L1, R1])
var windY = d3.scaleLinear().domain([0, 88.4]).range([726.7, 420.3])
var windOpts = {
  x: windX, y: windY, xTicks: tickDates, yTicks: [0, 10, 20, 30, 40, 50, 60, 70, 80], xFormat: tickFmt, rotate: true,
  title: 'Wind Speed vs. Time', yLabel: 'Wind speed (m s⁻¹)', yLabelX: 42
}
var windAx = makeAxes(windOpts)
var bandArea = d3.area()
  .x(function(d) { return windX(toDate(d[0])) })
  .y0(function(d) { return windY(d[1]) })
  .y1(function(d) { return windY(d[2]) })
windAx.top.append('path').attr('d', bandArea(errorBand)).attr('fill', GRAY).attr('fill-opacity', 0.35)
windAx.top.selectAll('circle').data(windSamples).join('circle')
  .attr('cx', function(d) { return windX(toDate(d[0])) }).attr('cy', function(d) { return windY(d[1]) })
  .attr('r', 2.2).attr('fill', NAVY)
var windLine = d3.line()
  .x(function(d, i) { return windX(toDate(meanDays[i])) })
  .y(function(d) { return windY(d) })
windAx.top.append('path').attr('d', windLine(windMean)).attr('fill', 'none').attr('stroke', RED).attr('stroke-width', 1.9)
legendBox(windAx.top, 89.3, 425.3, 161.7, 49.7)
windAx.top.append('rect').attr('x', 92.7).attr('y', 430).attr('width', 24).attr('height', 9).attr('fill', GRAY).attr('fill-opacity', 0.35)
windAx.top.append('circle').attr('cx', 105.7).attr('cy', 450.3).attr('r', 1.9).attr('fill', NAVY)
windAx.top.append('line').attr('x1', 92).attr('x2', 116.7).attr('y1', 465).attr('y2', 465).attr('stroke', RED).attr('stroke-width', 1.9)
legendText(windAx.top, 125, 435, '±1σ propagated error')
legendText(windAx.top, 125, 450.3, 'Wind speed')
legendText(windAx.top, 125, 466, 'Daily mean')
finishAxes(windAx.g, windOpts)

// latitude
var latX = d3.scaleUtc().domain(latTimeDomain).range([L2, R2])
var latY = d3.scaleLinear().domain([-90, 90]).range([726.7, 420.3])
var latOpts = {
  x: latX, y: latY, xTicks: tickDates, yTicks: [-90, -60, -30, 0, 30, 60, 90], xFormat: tickFmt, rotate: true,
  yFormat: function(d) { return String(d).replace('-', '\u2212') },
  title: 'Latitude vs. Time', yLabel: 'Latitude (deg)', yLabelX: 814
}
var latAx = makeAxes(latOpts)
var latLine = d3.line().x(function(d) { return latX(toDate(d[0])) }).y(function(d) { return latY(d[1]) })
latAx.top.selectAll('path').data(latSegments).join('path')
  .attr('d', latLine).attr('fill', 'none').attr('stroke', '#000')
  .attr('stroke-width', 5).attr('stroke-linecap', 'round').attr('stroke-linejoin', 'round')
finishAxes(latAx.g, latOpts)

// altitude
var altX = d3.scaleUtc().domain(timeDomain).range([L1, R1])
var altY = d3.scaleLinear().domain([11499, 12673]).range([1114.7, 808.3])
var altOpts = {
  x: altX, y: altY, xTicks: tickDates, yTicks: [11600, 11800, 12000, 12200, 12400, 12600], xFormat: tickFmt, yFormat: d3.format('d'), rotate: true,
  title: 'Balloon Altitude vs. Time', xLabel: 'UTC date', xLabelY: 1176, yLabel: 'Altitude (m AMSL)', yLabelX: 21
}
var altAx = makeAxes(altOpts)
altAx.top.selectAll('circle').data(altSamples).join('circle')
  .attr('cx', function(d) { return altX(toDate(d[0])) }).attr('cy', function(d) { return altY(d[1]) })
  .attr('r', 2.2).attr('fill', GRAY)
var altLine = d3.line()
  .x(function(d, i) { return altX(toDate(meanDays[i])) })
  .y(function(d) { return altY(d) })
altAx.top.append('path').attr('d', altLine(altMean)).attr('fill', 'none').attr('stroke', RED).attr('stroke-width', 1.9)
finishAxes(altAx.g, altOpts)

// --- histogram ------------------------------------------------------------
var histX = d3.scaleLinear().domain([-100, 100]).range([L2, R2])
var histY = d3.scaleLinear().domain([0, 150.15]).range([1114.7, 808.3])
var histOpts = {
  x: histX, y: histY, xTicks: [-100, -75, -50, -25, 0, 25, 50, 75, 100], yTicks: [0, 20, 40, 60, 80, 100, 120, 140],
  xFormat: function(d) { return String(d).replace('-', '\u2212') },
  title: 'U and V Wind Components', xLabel: 'Wind speed (m s⁻¹)', xLabelY: 1160, yLabel: 'Frequency', yLabelX: 817
}
var histAx = makeAxes(histOpts)
function drawBars(counts, start, color) {
  histAx.top.append('g').selectAll('rect').data(counts).join('rect')
    .attr('x', function(d, i) { return histX(start + i * binWidth) })
    .attr('width', histX(binWidth) - histX(0))
    .attr('y', function(d) { return histY(d) })
    .attr('height', function(d) { return histY(0) - histY(d) })
    .attr('fill', color).attr('fill-opacity', 0.65)
    .attr('stroke', '#000').attr('stroke-opacity', 0.72).attr('stroke-width', 1.2)
}
drawBars(uCounts, uBinStart, '#1f77b4')
drawBars(vCounts, vBinStart, '#ff7f0e')
legendBox(histAx.top, 1442.5, 816.5, 116, 37)
histAx.top.append('rect').attr('x', 1446.5).attr('y', 822.5).attr('width', 22.5).attr('height', 8).attr('fill', '#1f77b4').attr('fill-opacity', 0.65).attr('stroke', '#000').attr('stroke-opacity', 0.72).attr('stroke-width', 1.2)
histAx.top.append('rect').attr('x', 1446.5).attr('y', 839).attr('width', 22.5).attr('height', 8).attr('fill', '#ff7f0e').attr('fill-opacity', 0.65).attr('stroke', '#000').attr('stroke-opacity', 0.72).attr('stroke-width', 1.2)
legendText(histAx.top, 1477.5, 827, 'U (zonal)')
legendText(histAx.top, 1477.5, 843.5, 'V (meridional)')
finishAxes(histAx.g, histOpts)
</script>
</body>
</html>
